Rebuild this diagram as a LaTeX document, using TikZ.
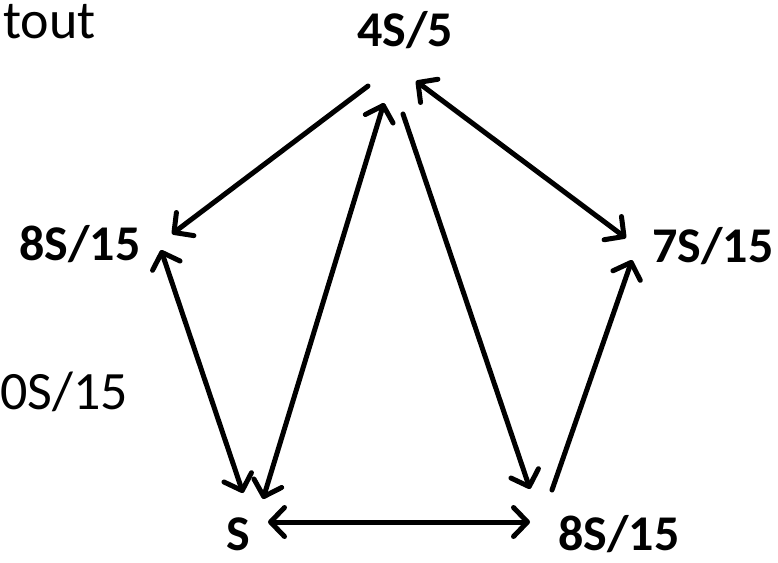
\documentclass[tikz,border=0pt]{standalone}
\usepackage{fontspec}
\setmainfont{Carlito}
\usetikzlibrary{arrows.meta}
\begin{document}
\begin{tikzpicture}[x=1pt,y=-1pt,
  lbl/.style={font=\fontsize{50}{54}\selectfont\bfseries, inner sep=0pt, anchor=base},
  plain/.style={font=\fontsize{54}{58}\selectfont, inner sep=0pt, anchor=base west},
  conn/.style={line width=5pt, line cap=round, line join=round,
    arrows={-Straight Barb[length=14pt,width=29pt,line cap=round,round]}},
  conn2/.style={conn, arrows={Straight Barb[length=14pt,width=29pt,line cap=round,round]-Straight Barb[length=14pt,width=29pt,line cap=round,round]}}]
\useasboundingbox (0,0) rectangle (778,562);
% labels
\node[lbl] (top) at (405,46) {4S/5};
\node[lbl] (left) at (80,260) {8S/15};
\node[lbl] (right) at (713,262) {7S/15};
\node[lbl] (s) at (238,550) {S};
\node[lbl] (bot) at (619,550) {8S/15};
\node[plain] (tout) at (3,38) {tout};
\node[plain] (zero) at (0,409) {0S/15};
% endpoints
\coordinate (a1) at (368,86);  \coordinate (b1) at (172,234);
\coordinate (a2) at (161,250); \coordinate (b2) at (243,493);
\coordinate (a3) at (263,499); \coordinate (b3) at (384,103);
\coordinate (a4) at (403,114); \coordinate (b4) at (530,489);
\coordinate (a5) at (416,81);  \coordinate (b5) at (626,238);
\coordinate (a6) at (552,490); \coordinate (b6) at (632,260);
\coordinate (a7) at (268,522); \coordinate (b7) at (530,522);
% connectors
\draw[conn] (a1) -- (b1);
\draw[conn2] (a2) -- (b2);
\draw[conn2] (a3) -- (b3);
\draw[conn] (a4) -- (b4);
\draw[conn2] (a5) -- (b5);
\draw[conn] (a6) -- (b6);
\draw[conn2] (a7) -- (b7);
\end{tikzpicture}
\end{document}
